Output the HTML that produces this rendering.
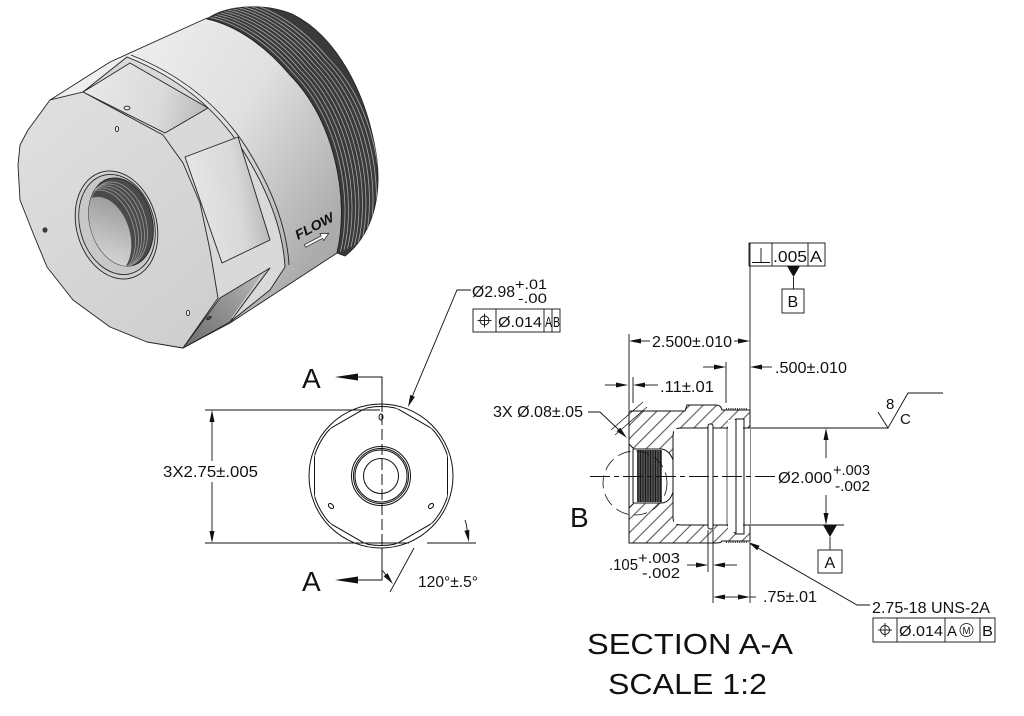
<!DOCTYPE html>
<html>
<head>
<meta charset="utf-8">
<style>
html,body{margin:0;padding:0;background:#fff;}
svg{display:block;}
text{font-family:"Liberation Sans",Arial,sans-serif;fill:#111;}
</style>
</head>
<body>
<svg width="1024" height="716" viewBox="0 0 1024 716" xmlns="http://www.w3.org/2000/svg">
<defs>
  <linearGradient id="cyl" gradientUnits="userSpaceOnUse" x1="110" y1="60" x2="345" y2="210">
    <stop offset="0" stop-color="#eeeeee"/>
    <stop offset="0.5" stop-color="#e0e0e0"/>
    <stop offset="1" stop-color="#ababab"/>
  </linearGradient>
  <linearGradient id="face" gradientUnits="userSpaceOnUse" x1="20" y1="100" x2="220" y2="340">
    <stop offset="0" stop-color="#e0e0e0"/>
    <stop offset="1" stop-color="#cdcdcd"/>
  </linearGradient>
  <linearGradient id="topflat" gradientUnits="userSpaceOnUse" x1="90" y1="80" x2="210" y2="110">
    <stop offset="0" stop-color="#e8e8e8"/>
    <stop offset="0.6" stop-color="#dadada"/>
    <stop offset="1" stop-color="#b8b8b8"/>
  </linearGradient>
  <linearGradient id="rflat" gradientUnits="userSpaceOnUse" x1="190" y1="200" x2="270" y2="190">
    <stop offset="0" stop-color="#e6e6e6"/>
    <stop offset="0.6" stop-color="#d8d8d8"/>
    <stop offset="1" stop-color="#b4b4b4"/>
  </linearGradient>
  <linearGradient id="botflat" gradientUnits="userSpaceOnUse" x1="185" y1="345" x2="270" y2="270">
    <stop offset="0" stop-color="#6e6e6e"/>
    <stop offset="0.6" stop-color="#9a9a9a"/>
    <stop offset="1" stop-color="#c4c4c4"/>
  </linearGradient>
  <linearGradient id="holein" gradientUnits="userSpaceOnUse" x1="90" y1="260" x2="140" y2="190">
    <stop offset="0" stop-color="#d8d8d8"/>
    <stop offset="1" stop-color="#8a8a8a"/>
  </linearGradient>
  <clipPath id="thr">
    <path d="M207,19 C225,6 262,2 292,14 C337,36 368,95 377,160 C382,205 368,238 345,256 L337,253 C350,200 335,120 290,75 C265,45 235,25 207,19 Z"/>
  </clipPath>
  <clipPath id="holeclip">
    <ellipse cx="121" cy="222" rx="31" ry="45" transform="rotate(-16 121 222)"/>
  </clipPath>
  <clipPath id="hexclip">
    <polygon points="381,399.2 447.5,437.6 447.5,514.4 381,552.8 314.5,514.4 314.5,437.6"/>
  </clipPath>
  <clipPath id="circclip">
    <circle cx="381" cy="476" r="69.5"/>
  </clipPath>
  <pattern id="hatch" width="9.5" height="9.5" patternUnits="userSpaceOnUse" patternTransform="rotate(45)">
    <line x1="4.75" y1="0" x2="4.75" y2="9.5" stroke="#333" stroke-width="0.9"/>
  </pattern>
</defs>

<!-- ================= 3D PART ================= -->
<g stroke="#222" stroke-width="0.9" stroke-linejoin="round">
  <path d="M50,100 L110,62 L207,18 C235,25 265,45 290,75 C335,120 350,200 337,253 L230,323 L183,348 L150,342 Z" fill="url(#cyl)"/>
  <path d="M207,19 C225,6 262,2 292,14 C337,36 368,95 377,160 C382,205 368,238 345,256 L337,253 C350,200 335,120 290,75 C265,45 235,25 207,19 Z" fill="#3a3a3a"/>
  <g clip-path="url(#thr)" fill="none" stroke="#a8a8a8" stroke-width="0.8">
    <path d="M207,19 C235,25 265,45 290,75 C335,120 350,200 337,253" transform="translate(3.5,-1.5)"/>
    <path d="M207,19 C235,25 265,45 290,75 C335,120 350,200 337,253" transform="translate(7,-3)"/>
    <path d="M207,19 C235,25 265,45 290,75 C335,120 350,200 337,253" transform="translate(10.5,-4.5)"/>
    <path d="M207,19 C235,25 265,45 290,75 C335,120 350,200 337,253" transform="translate(14,-6)"/>
    <path d="M207,19 C235,25 265,45 290,75 C335,120 350,200 337,253" transform="translate(17.5,-7.5)"/>
    <path d="M207,19 C235,25 265,45 290,75 C335,120 350,200 337,253" transform="translate(21,-9)"/>
    <path d="M207,19 C235,25 265,45 290,75 C335,120 350,200 337,253" transform="translate(24.5,-10.5)"/>
    <path d="M207,19 C235,25 265,45 290,75 C335,120 350,200 337,253" transform="translate(28,-12)"/>
    <path d="M207,19 C235,25 265,45 290,75 C335,120 350,200 337,253" transform="translate(31.5,-13.5)"/>
    <path d="M207,19 C235,25 265,45 290,75 C335,120 350,200 337,253" transform="translate(35,-15)"/>
    <path d="M207,19 C235,25 265,45 290,75 C335,120 350,200 337,253" transform="translate(38.5,-16.5)"/>
  </g>
  <path d="M50,100 L83,92 L127,57 C175,76 218,108 247,157 C268,192 283,230 285,267 L270,290 L230,322 L183,348 Z" fill="#d9d9d9"/>
  <path d="M131,55 C179,74 222,106 251,155 C272,190 287,228 289,265" fill="none"/>
  <polygon points="83,92 130,63 208,108 165,133" fill="url(#topflat)"/>
  <polygon points="185,157 238,137 270,240 222,263" fill="url(#rflat)"/>
  <polygon points="20,145 28,130 50,100 83,92 163,135 183,163 200,203 210,250 218,298 183,348 147,342 110,327 73,300 47,267 33,233 20,200 18,165" fill="url(#face)"/>
  <polygon points="220,298 270,268 230,322 183,348" fill="url(#botflat)"/>
  <line x1="262" y1="275" x2="232" y2="318" stroke="#ddd" stroke-width="0.8"/>
  <ellipse cx="116.5" cy="225" rx="40" ry="55" transform="rotate(-16 116.5 225)" fill="#d0d0d0"/>
  <ellipse cx="117" cy="224.5" rx="37" ry="51" transform="rotate(-16 117 224.5)" fill="#c8c8c8"/>
  <ellipse cx="121" cy="222" rx="31" ry="45" transform="rotate(-16 121 222)" fill="#4a4a4a"/>
  <g clip-path="url(#holeclip)">
    <g fill="none" stroke="#9a9a9a" stroke-width="0.8">
      <ellipse cx="118" cy="224" rx="28" ry="43" transform="rotate(-16 118 224)"/>
      <ellipse cx="115" cy="226" rx="28" ry="43" transform="rotate(-16 115 226)"/>
      <ellipse cx="112" cy="228" rx="28" ry="43" transform="rotate(-16 112 228)"/>
      <ellipse cx="109" cy="230" rx="28" ry="43" transform="rotate(-16 109 230)"/>
      <ellipse cx="106" cy="232" rx="28" ry="43" transform="rotate(-16 106 232)"/>
    </g>
    <ellipse cx="104" cy="236" rx="26" ry="40" transform="rotate(-16 104 236)" fill="url(#holein)" stroke="none"/>
  </g>
  <ellipse cx="127" cy="108" rx="3" ry="1.8" fill="#eee"/>
  <ellipse cx="117" cy="129" rx="1.6" ry="2.6" fill="#eee"/>
  <ellipse cx="45" cy="230" rx="2" ry="2.2" fill="#444"/>
  <ellipse cx="188" cy="313" rx="1.6" ry="2.6" fill="#eee"/>
  <ellipse cx="209" cy="318" rx="2.5" ry="1.1" fill="#555" transform="rotate(-30 209 318)"/>
  <text transform="translate(298,240) rotate(-28)" font-size="13.5" font-style="italic" font-weight="bold" stroke="none" fill="#222" textLength="42" lengthAdjust="spacingAndGlyphs">FLOW</text>
  <path d="M0,-1.4 L19,-1.4 L19,-4 L27,0 L19,4 L19,1.4 L0,1.4 Z" transform="translate(305,246) rotate(-28)" fill="#fff" stroke="#333" stroke-width="0.8"/>
</g>

<!-- ================= FRONT VIEW ================= -->
<g fill="none" stroke="#111" stroke-width="1">
  <circle cx="381" cy="476" r="72"/>
  <circle cx="381" cy="476" r="69.5" clip-path="url(#hexclip)"/>
  <polygon points="381,399.2 447.5,437.6 447.5,514.4 381,552.8 314.5,514.4 314.5,437.6" clip-path="url(#circclip)"/>
  <circle cx="381" cy="476" r="29.5"/>
  <circle cx="381" cy="476" r="27.5"/>
  <circle cx="381" cy="476" r="26"/>
  <circle cx="381" cy="476" r="17.5"/>
  <ellipse cx="381" cy="417" rx="2" ry="3"/>
  <ellipse cx="331" cy="506" rx="2" ry="3" transform="rotate(-45 331 506)"/>
  <ellipse cx="431" cy="506" rx="2" ry="3" transform="rotate(45 431 506)"/>
  <polyline points="357,377 382,377 382,412"/>
  <line x1="382" y1="414" x2="382" y2="548" stroke-dasharray="11,4"/>
  <polyline points="382,548 382,580 357,580"/>
  <line x1="205" y1="410" x2="380" y2="410" stroke-width="0.9"/>
  <line x1="205" y1="543" x2="409" y2="543" stroke-width="0.9"/>
  <line x1="427" y1="543" x2="476" y2="543" stroke-width="0.9"/>
  <line x1="212" y1="420" x2="212" y2="461" stroke-width="0.9"/>
  <line x1="212" y1="482" x2="212" y2="533" stroke-width="0.9"/>
  <polyline points="412,397 457,290 471,290" stroke-width="0.9"/>
  <line x1="382" y1="570" x2="386" y2="575" stroke-width="0.9"/>
  <line x1="414" y1="548" x2="390" y2="592" stroke-width="0.9"/>
  <path d="M465,520 Q467,526 467,530" stroke-width="0.9"/>
  <rect x="473" y="309" width="87" height="23" stroke-width="0.9"/>
  <line x1="496" y1="309" x2="496" y2="332" stroke-width="0.9"/>
  <line x1="544" y1="309" x2="544" y2="332" stroke-width="0.9"/>
  <line x1="552" y1="309" x2="552" y2="332" stroke-width="0.9"/>
  <circle cx="484.5" cy="320.5" r="4.5" stroke-width="0.9"/>
  <line x1="477.5" y1="320.5" x2="491.5" y2="320.5" stroke-width="0.9"/>
  <line x1="484.5" y1="313.5" x2="484.5" y2="327.5" stroke-width="0.9"/>
</g>
<g fill="#111" stroke="none">
  <polygon points="335,377 358,373.5 358,380.5"/>
  <polygon points="335,580 358,576.5 358,583.5"/>
  <polygon points="212,410 209.5,422 214.5,422"/>
  <polygon points="212,543 209.5,531 214.5,531"/>
  <polygon points="408,407 410.3,394.9 414.9,396.9"/>
  <polygon points="393,584 387.6,573.1 383.6,576.2"/>
  <polygon points="469,542 469.3,529.8 464.4,530.7"/>
</g>
<text x="302" y="388" font-size="28">A</text>
<text x="302" y="591" font-size="28">A</text>
<text x="163" y="477" font-size="16" textLength="95" lengthAdjust="spacingAndGlyphs">3X2.75±.005</text>
<text x="418" y="587" font-size="16" textLength="60" lengthAdjust="spacingAndGlyphs">120°±.5°</text>
<text x="472" y="297" font-size="16" textLength="43" lengthAdjust="spacingAndGlyphs">Ø2.98</text>
<text x="515" y="289" font-size="14" textLength="32" lengthAdjust="spacingAndGlyphs">+.01</text>
<text x="518" y="303" font-size="14" textLength="29" lengthAdjust="spacingAndGlyphs">-.00</text>
<text x="498" y="327" font-size="15" textLength="44" lengthAdjust="spacingAndGlyphs">Ø.014</text>
<text x="545" y="327" font-size="15" textLength="7" lengthAdjust="spacingAndGlyphs">A</text>
<text x="553" y="327" font-size="15" textLength="7" lengthAdjust="spacingAndGlyphs">B</text>

<!-- ================= SECTION A-A ================= -->
<path d="M629,411 L685,411 L687,405 L716,405 Q721,405 722,410 L750,410 L750,541 L722,541 Q721,543 716,543 L629,543 Z" fill="url(#hatch)" stroke="#111" stroke-width="1"/>
<g fill="#fff" stroke="#111" stroke-width="1">
  <path d="M750,428 L681,428 Q673,428 673,436 L673,517 Q673,525 681,525 L750,525"/>
  <rect x="708" y="424" width="5" height="105" rx="2"/>
  <path d="M727,428 L736,419 L744,419 L744,428 Z" stroke-linejoin="round"/>
  <path d="M727,525 L736,534 L744,534 L744,525 Z" stroke-linejoin="round"/>
  <rect x="674" y="429" width="75" height="95" stroke="none"/>
  <rect x="709" y="425" width="3" height="103" stroke="none"/>
  <rect x="728" y="420" width="15" height="112" stroke="none"/>
  <path d="M629,444 L634,449 L662,449 Q670,451 673,460 L673,492 Q670,502 662,503 L634,503 L629,508 Z"/>
</g>
<g fill="none" stroke="#111" stroke-width="1">
  <line x1="708" y1="428" x2="708" y2="525"/>
  <line x1="713" y1="428" x2="713" y2="525"/>
  <line x1="736" y1="419" x2="736" y2="534"/>
  <line x1="744" y1="419" x2="744" y2="534"/>
  <line x1="727" y1="428" x2="727" y2="525" stroke-width="0.7"/>
  <line x1="629" y1="411" x2="629" y2="543"/>
  <line x1="633" y1="449" x2="633" y2="503"/>
</g>
<rect x="637" y="450" width="25" height="52" fill="#555"/>
<g stroke="#1a1a1a" stroke-width="1">
  <line x1="638" y1="450" x2="638" y2="502"/><line x1="640.5" y1="450" x2="640.5" y2="502"/>
  <line x1="643" y1="450" x2="643" y2="502"/><line x1="645.5" y1="450" x2="645.5" y2="502"/>
  <line x1="648" y1="450" x2="648" y2="502"/><line x1="650.5" y1="450" x2="650.5" y2="502"/>
  <line x1="653" y1="450" x2="653" y2="502"/><line x1="655.5" y1="450" x2="655.5" y2="502"/>
  <line x1="658" y1="450" x2="658" y2="502"/><line x1="660.5" y1="450" x2="660.5" y2="502"/>
</g>
<line x1="726" y1="409" x2="748" y2="409" stroke="#333" stroke-width="2" stroke-dasharray="1,1.2"/>
<line x1="726" y1="542" x2="748" y2="542" stroke="#333" stroke-width="2" stroke-dasharray="1,1.2"/>

<line x1="590" y1="476.5" x2="777" y2="476.5" stroke="#111" stroke-width="0.9" stroke-dasharray="20,4,5,4"/>
<circle cx="635" cy="483" r="32" fill="none" stroke="#111" stroke-width="0.8" stroke-dasharray="13,6"/>

<g fill="none" stroke="#111" stroke-width="0.9">
  <line x1="629" y1="334" x2="629" y2="410"/>
  <line x1="750" y1="243" x2="750" y2="410"/>
  <line x1="633" y1="377" x2="633" y2="403"/>
  <line x1="726" y1="362" x2="726" y2="403"/>
  <line x1="750" y1="543" x2="750" y2="603"/>
  <line x1="708" y1="530" x2="708" y2="572"/>
  <line x1="713" y1="530" x2="713" y2="603"/>
  <line x1="751" y1="428" x2="888" y2="428"/>
  <line x1="751" y1="525" x2="844" y2="525"/>
  <line x1="641" y1="341" x2="650" y2="341"/>
  <line x1="734" y1="341" x2="738" y2="341"/>
  <line x1="605" y1="385" x2="616" y2="385"/>
  <line x1="645" y1="385" x2="658" y2="385"/>
  <line x1="703" y1="367" x2="714" y2="367"/>
  <line x1="762" y1="367" x2="772" y2="367"/>
  <line x1="826" y1="440" x2="826" y2="458"/>
  <line x1="826" y1="495" x2="826" y2="513"/>
  <line x1="687" y1="565" x2="696" y2="565"/>
  <line x1="725" y1="565" x2="737" y2="565"/>
  <line x1="725" y1="597" x2="738" y2="597"/>
  <line x1="750" y1="597" x2="756" y2="597"/>
  <line x1="830" y1="537" x2="830" y2="550"/>
  <line x1="793.5" y1="277" x2="793.5" y2="289"/>
  <polyline points="588,412 600,412 619,430"/>
  <polyline points="758,548 857,605 870,605"/>
  <line x1="611" y1="430" x2="643" y2="402" stroke-width="0.7"/>
  <line x1="615" y1="435" x2="647" y2="407" stroke-width="0.7"/>
  <polyline points="878,412 888,428 908,393 943,393"/>
  <rect x="749" y="243" width="76" height="23"/>
  <line x1="772" y1="243" x2="772" y2="266"/>
  <line x1="808" y1="243" x2="808" y2="266"/>
  <line x1="752" y1="262.5" x2="770" y2="262.5"/>
  <line x1="761" y1="248" x2="761" y2="262.5"/>
  <rect x="782" y="289" width="22" height="24"/>
  <rect x="818" y="550" width="24" height="23"/>
  <rect x="873" y="618" width="122" height="24"/>
  <line x1="897" y1="618" x2="897" y2="642"/>
  <line x1="945" y1="618" x2="945" y2="642"/>
  <line x1="980" y1="618" x2="980" y2="642"/>
  <circle cx="885" cy="630" r="4.5"/>
  <line x1="878" y1="630" x2="892" y2="630"/>
  <line x1="885" y1="623" x2="885" y2="637"/>
  <circle cx="966.5" cy="630" r="6.5" stroke-width="0.8"/>
</g>
<g fill="#111" stroke="none">
  <polygon points="629,341 641,338.5 641,343.5"/>
  <polygon points="750,341 738,338.5 738,343.5"/>
  <polygon points="628,385 616,382.5 616,387.5"/>
  <polygon points="633,385 645,382.5 645,387.5"/>
  <polygon points="726,367 714,364.5 714,369.5"/>
  <polygon points="750,367 762,364.5 762,369.5"/>
  <polygon points="627,438 620.3,427.7 616.7,431.3"/>
  <polygon points="826,428 823.5,440 828.5,440"/>
  <polygon points="826,525 823.5,513 828.5,513"/>
  <polygon points="823,525 837,525 830,537"/>
  <polygon points="787,266 800,266 793.5,277"/>
  <polygon points="708,565 696,562.5 696,567.5"/>
  <polygon points="713,565 725,562.5 725,567.5"/>
  <polygon points="713,597 725,594.5 725,599.5"/>
  <polygon points="750,597 738,594.5 738,599.5"/>
  <polygon points="748,542 759.6,545.8 757.2,550.2"/>
</g>
<text x="652" y="347" font-size="16" textLength="80" lengthAdjust="spacingAndGlyphs">2.500±.010</text>
<text x="660" y="392" font-size="16" textLength="54" lengthAdjust="spacingAndGlyphs">.11±.01</text>
<text x="775" y="373" font-size="16" textLength="72" lengthAdjust="spacingAndGlyphs">.500±.010</text>
<text x="493" y="417" font-size="16" textLength="90" lengthAdjust="spacingAndGlyphs">3X Ø.08±.05</text>
<text x="570" y="527" font-size="28">B</text>
<text x="778" y="483" font-size="16" textLength="54" lengthAdjust="spacingAndGlyphs">Ø2.000</text>
<text x="833" y="475" font-size="15" textLength="37" lengthAdjust="spacingAndGlyphs">+.003</text>
<text x="835" y="491" font-size="15" textLength="35" lengthAdjust="spacingAndGlyphs">-.002</text>
<text x="609" y="570" font-size="16" textLength="29" lengthAdjust="spacingAndGlyphs">.105</text>
<text x="638" y="563" font-size="15" textLength="42" lengthAdjust="spacingAndGlyphs">+.003</text>
<text x="642" y="578" font-size="15" textLength="38" lengthAdjust="spacingAndGlyphs">-.002</text>
<text x="763" y="602" font-size="16" textLength="54" lengthAdjust="spacingAndGlyphs">.75±.01</text>
<text x="872" y="613" font-size="16" textLength="118" lengthAdjust="spacingAndGlyphs">2.75-18 UNS-2A</text>
<text x="899" y="636" font-size="15" textLength="44" lengthAdjust="spacingAndGlyphs">Ø.014</text>
<text x="947" y="636" font-size="15" textLength="10" lengthAdjust="spacingAndGlyphs">A</text>
<text x="962.5" y="634" font-size="10" textLength="8" lengthAdjust="spacingAndGlyphs">M</text>
<text x="982" y="636" font-size="15" textLength="11" lengthAdjust="spacingAndGlyphs">B</text>
<text x="773" y="262" font-size="16" textLength="34" lengthAdjust="spacingAndGlyphs">.005</text>
<text x="810" y="262" font-size="16" textLength="12" lengthAdjust="spacingAndGlyphs">A</text>
<text x="787.5" y="307" font-size="16">B</text>
<text x="824.5" y="568" font-size="16">A</text>
<text x="886" y="409" font-size="15">8</text>
<text x="900" y="424" font-size="15">C</text>
<text x="587" y="654" font-size="29" textLength="206" lengthAdjust="spacingAndGlyphs">SECTION A-A</text>
<text x="608" y="694" font-size="29" textLength="159" lengthAdjust="spacingAndGlyphs">SCALE 1:2</text>
</svg>
</body>
</html>
